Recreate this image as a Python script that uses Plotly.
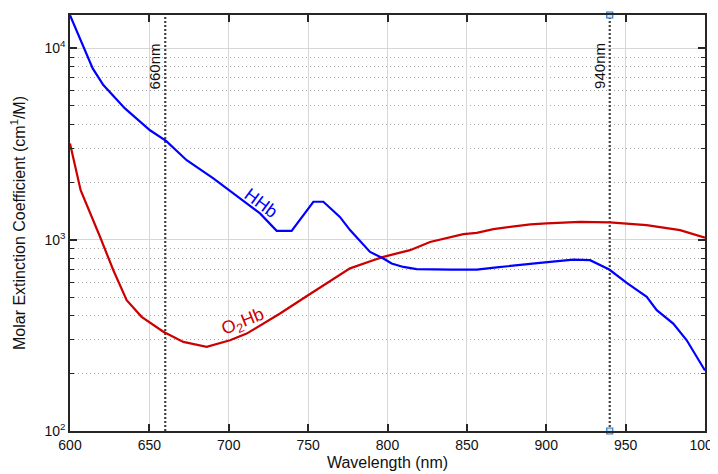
import math
import plotly.graph_objects as go

# ---- data ----
hhb_nm = [600, 614.3, 621, 634.6, 650.4, 660.7, 673.5, 690.3, 719.7, 730.2, 739.6,
          753.3, 759.6, 770, 776.4, 789, 797.4, 802.6, 810, 818.3, 840, 856.2,
          868.8, 883.5, 896, 917, 927.6, 939.7, 950.7, 963.3, 969.6, 980, 988.5, 1000]
hhb = [14900, 7850, 6430, 4850, 3730, 3270, 2600, 2090, 1372, 1112, 1112,
       1578, 1578, 1315, 1122, 863, 797, 751, 720, 702, 698, 698,
       716, 740, 757, 787, 781, 698, 594, 502, 428, 364, 298, 207]

o2hb_nm = [600, 606.7, 618.9, 627.3, 635.7, 645.1, 658.8, 671.4, 686.1, 700.8, 711.3,
           732.3, 749, 764, 776.4, 791, 797.4, 814.2, 826.8, 847.8, 856.2, 866.7,
           890, 900.3, 921.3, 940, 963.2, 984.3, 1000]
o2hb = [3180, 1815, 1035, 692, 483, 395, 330, 292, 275, 298, 323,
        411, 506, 608, 708, 781, 813, 881, 973, 1068, 1086, 1136,
        1202, 1216, 1240, 1231, 1192, 1122, 1025]

markers_nm = [660, 940]
marker_labels = ["660nm", "940nm"]
marker_label_y = 8070
y_bottom, y_top = 100, 14930

x_ticks = [600, 650, 700, 750, 800, 850, 900, 950, 1000]
y_ticks = [100, 1000, 10000]
y_ticktext = ["10<sup>2</sup>", "10<sup>3</sup>", "10<sup>4</sup>"]
y_minor = [m * d for d in (100, 1000, 10000) for m in range(2, 10) if m * d < y_top]

label_hhb = dict(text="HHb", x=720.3, y=1552, angle=37)
label_o2hb = dict(text="O<sub>2</sub>Hb", x=709, y=371, angle=-22)

FONT = "Liberation Sans, Arial, Helvetica, sans-serif"
BLUE = "#0000ff"
RED = "#cc0000"
TXT = "#111111"

fig = go.Figure()

# vertical dotted marker lines
for nm in markers_nm:
    fig.add_trace(go.Scatter(x=[nm, nm], y=[y_bottom, y_top], mode="lines",
                             line=dict(color="#444444", width=2.2, dash="2px,2px"),
                             hoverinfo="skip", showlegend=False))
# data-tip squares at 940
fig.add_trace(go.Scatter(x=[markers_nm[1], markers_nm[1]], y=[y_bottom, y_top], mode="markers",
                         marker=dict(symbol="square", size=6, color="#d6e6f5",
                                     line=dict(color="#2f78c0", width=1.2)),
                         cliponaxis=False, hoverinfo="skip", showlegend=False))

fig.add_trace(go.Scatter(x=o2hb_nm, y=o2hb, mode="lines", name="O2Hb",
                         line=dict(color=RED, width=2.2), showlegend=False))
fig.add_trace(go.Scatter(x=hhb_nm, y=hhb, mode="lines", name="HHb",
                         line=dict(color=BLUE, width=2.2), showlegend=False))

for nm, lab in zip(markers_nm, marker_labels):
    fig.add_annotation(x=nm, y=math.log10(marker_label_y), text=lab, showarrow=False,
                       textangle=-90, xshift=-11,
                       font=dict(family=FONT, size=15, color=TXT))

for lab, col in ((label_hhb, BLUE), (label_o2hb, RED)):
    fig.add_annotation(x=lab["x"], y=math.log10(lab["y"]), text=lab["text"], showarrow=False,
                       textangle=lab["angle"],
                       font=dict(family=FONT, size=18, color=col))

# the page body adds an 8px offset, so the figure is 710x466 and left/top margins are reduced
fig.update_layout(
    width=710, height=466,
    margin=dict(l=62, r=13, t=7, b=43),
    paper_bgcolor="white", plot_bgcolor="white",
    font=dict(family=FONT, size=13, color=TXT),
    xaxis=dict(
        range=[600, 1000], tickvals=x_ticks, ticks="inside", ticklen=7,
        tickcolor="#262626", tickwidth=1.5, automargin=False,
        ticklabeloverflow="allow",
        showline=True, linecolor="#262626", linewidth=1.5, mirror="allticks",
        showgrid=True, gridcolor="#d6d6d6", gridwidth=1.2, zeroline=False,
        tickfont=dict(family=FONT, size=14, color=TXT),
        title=dict(text="Wavelength (nm)", font=dict(family=FONT, size=16, color=TXT),
                   standoff=5),
    ),
    yaxis=dict(
        type="log", range=[2, math.log10(y_top)],
        tickvals=y_ticks, ticktext=y_ticktext, ticks="inside", ticklen=7,
        tickcolor="#262626", tickwidth=1.5, automargin=False,
        showline=True, linecolor="#262626", linewidth=1.5, mirror="allticks",
        showgrid=True, gridcolor="#d6d6d6", gridwidth=1.2, zeroline=False,
        tickfont=dict(family=FONT, size=14, color=TXT),
        minor=dict(tickmode="array", tickvals=y_minor, ticks="inside", ticklen=4,
                   tickcolor="#262626", tickwidth=1.2,
                   showgrid=True, gridcolor="#a8a8a8", griddash="1px,3px", gridwidth=1),
        title=dict(text="Molar Extinction Coefficient (cm<sup>1</sup>/M)",
                   font=dict(family=FONT, size=16, color=TXT), standoff=16),
    ),
)

fig.write_html("out.html")
